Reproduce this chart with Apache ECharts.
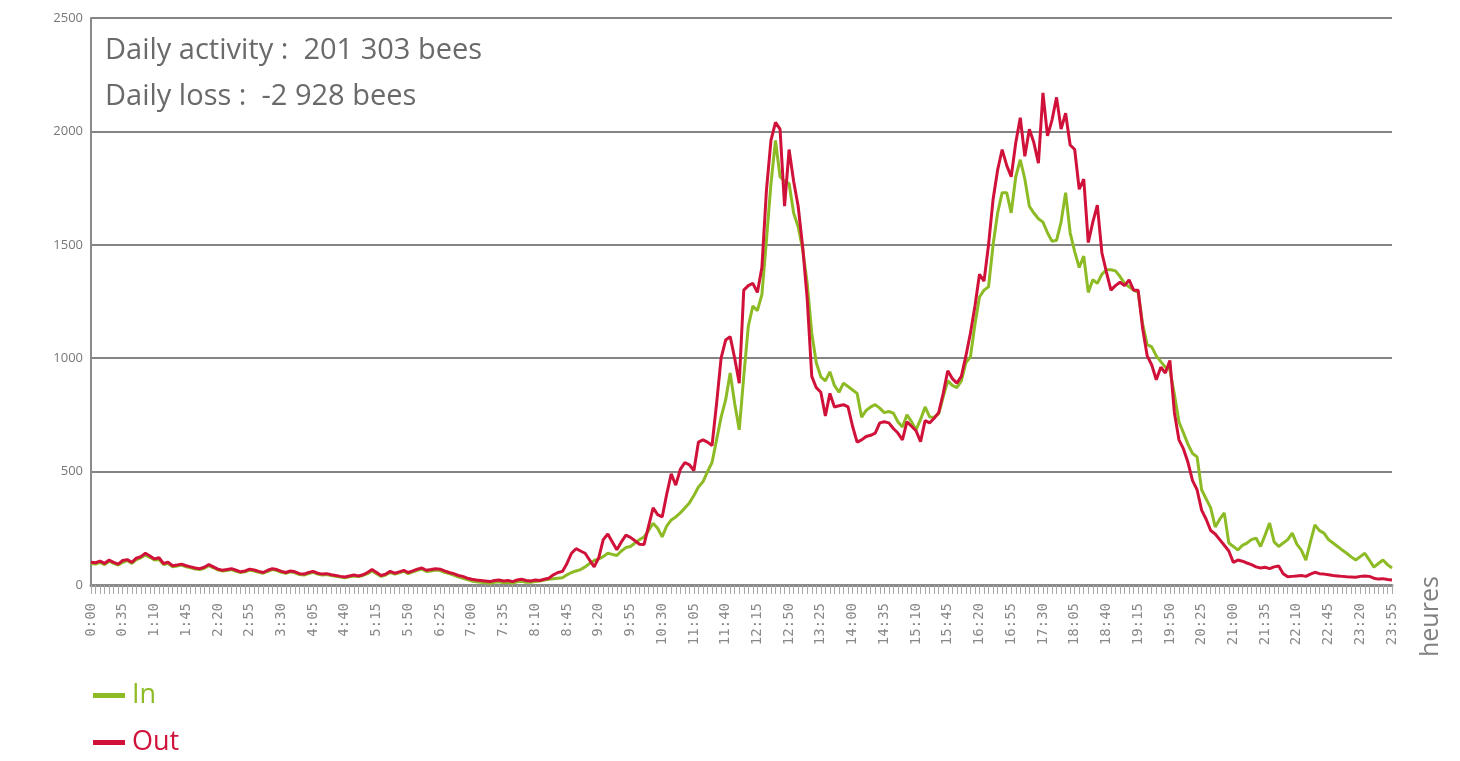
<!DOCTYPE html>
<html>
<head>
<meta charset="utf-8">
<script src="https://cdn.jsdelivr.net/npm/echarts@6/dist/echarts.min.js"></script>
<style>html,body{margin:0;padding:0;background:#fff;}#c{width:1460px;height:761px;}</style>
</head>
<body>
<div id="c"></div>
<script>
// time categories every 5 minutes
const categories = [];
for (let h = 0; h < 24; h++) { for (let m = 0; m < 60; m += 5) { categories.push(h + ':' + (m < 10 ? '0' + m : m)); } }

const yTicks = [0, 500, 1000, 1500, 2000, 2500];

const outValues = [
100,98,105,95,110,100,92,
108,112,100,118,125,140,128,
115,120,95,100,85,88,92,
85,80,75,72,78,90,80,
70,65,68,72,65,58,62,
70,66,60,55,65,72,68,
60,55,62,58,50,48,55,
60,52,48,50,45,42,38,
35,40,44,40,45,55,68,
55,42,48,60,52,58,64,
55,62,70,75,65,68,72,
70,62,55,50,42,38,30,
25,22,20,18,15,20,22,
18,20,15,22,25,20,18,
22,20,25,30,45,55,60,
95,140,160,150,140,110,80,
120,200,225,190,155,190,220,
210,195,180,178,260,340,310,
300,400,490,440,510,540,530,
505,630,640,630,615,800,1000,
1080,1095,1000,890,1300,1320,1330,
1290,1400,1740,1960,2040,2010,1670,
1920,1780,1670,1490,1260,920,870,
850,745,845,785,790,795,785,
700,630,640,655,660,670,715,
720,715,690,670,640,720,700,
680,632,725,715,735,760,845,
945,910,890,920,1010,1110,1230,
1370,1340,1500,1700,1830,1920,1850,
1800,1950,2060,1890,2010,1950,1860,
2170,1980,2050,2150,2010,2080,1940,
1920,1745,1790,1510,1600,1675,1465,
1380,1300,1320,1335,1320,1345,1300,
1300,1130,1010,970,905,960,935,
990,760,640,600,540,460,420,
330,290,240,225,200,175,150,
100,110,105,97,90,80,75,
78,72,80,84,50,36,38,
40,42,38,48,56,50,48,
45,42,40,38,36,35,34,
38,40,38,30,26,28,24,
22
];

const inValues = [
95,92,100,90,105,95,88,
100,108,95,112,120,132,122,
110,112,90,95,80,84,88,
80,76,70,68,74,85,76,
66,62,64,68,60,55,58,
66,62,56,52,60,68,64,
56,52,58,54,46,44,50,
56,48,44,46,42,38,35,
32,36,40,37,42,50,62,
50,38,44,55,48,54,60,
50,58,65,70,60,62,66,
64,56,50,44,36,30,24,
18,14,12,10,8,12,14,
10,12,8,14,16,12,12,
15,18,22,25,28,30,32,
45,55,62,68,80,95,108,
115,125,140,135,130,150,165,
170,185,200,212,240,272,250,
212,260,287,300,318,340,362,
395,432,455,500,540,640,740,
816,935,800,684,920,1140,1230,
1210,1280,1520,1770,1960,1800,1780,
1770,1640,1580,1480,1330,1110,980,
918,900,940,880,850,890,875,
860,845,740,770,785,795,780,
760,765,758,720,697,750,720,
684,730,785,741,740,755,830,
900,880,870,900,980,1006,1150,
1270,1300,1315,1500,1640,1730,1730,
1641,1800,1875,1790,1670,1640,1615,
1600,1553,1515,1520,1600,1730,1553,
1470,1400,1450,1290,1346,1330,1370,
1390,1390,1385,1360,1330,1315,1300,
1290,1150,1060,1050,1010,985,960,
950,840,720,670,620,580,565,
420,380,340,256,290,318,185,
170,154,175,185,200,207,170,
220,273,190,170,185,200,229,
180,154,110,190,265,240,229,
200,185,170,154,140,124,110,
125,140,110,79,95,110,90,
75
];

const GREEN = '#8dbb25';
const RED = '#d0123a';

const chart = echarts.init(document.getElementById('c'));
chart.setOption({
  animation: false,
  backgroundColor: '#fff',
  grid: { left: 91, right: 68, top: 18, bottom: 176 },
  xAxis: {
    type: 'category',
    data: categories,
    boundaryGap: false,
    axisLine: { show: true, lineStyle: { color: '#8a8a8a', width: 3 } },
    axisTick: { show: true, interval: 0, length: 9, lineStyle: { color: '#a8a8a8', width: 1 } },
    axisLabel: { interval: 6, rotate: 90, margin: 18, color: '#888', fontSize: 14, fontFamily: 'DejaVu Sans Mono' },
    splitLine: { show: false }
  },
  yAxis: {
    type: 'value',
    min: yTicks[0], max: yTicks[yTicks.length - 1], interval: 500,
    axisLine: { show: true, lineStyle: { color: '#8a8a8a', width: 2 } },
    axisTick: { show: false },
    axisLabel: { color: '#777', fontSize: 13, margin: 8, fontFamily: 'Open Sans', formatter: function (v) { return String(v); } },
    splitLine: { show: true, lineStyle: { color: '#848484', width: 2 } }
  },
  legend: {
    orient: 'vertical', left: 88, top: 677,
    itemWidth: 32, itemHeight: 5, itemGap: 20, icon: 'rect',
    textStyle: { fontSize: 27, fontFamily: 'Open Sans', padding: [0, 0, 0, 2] },
    data: [
      { name: 'In', textStyle: { color: GREEN } },
      { name: 'Out', textStyle: { color: RED } }
    ]
  },
  graphic: [
    { type: 'text', left: 105, top: 36, style: { text: 'Daily activity :  201 303 bees', fill: '#6a6a6a', font: '29px "Open Sans"' } },
    { type: 'text', left: 105, top: 82, style: { text: 'Daily loss :  -2 928 bees', fill: '#6a6a6a', font: '29px "Open Sans"' } },
    { type: 'text', x: 1418, y: 657, rotation: Math.PI / 2, style: { text: 'heures', fill: '#808080', font: '25px "Open Sans"' } }
  ],
  series: [
    { name: 'In', type: 'line', data: inValues, showSymbol: false, symbol: 'none', lineStyle: { color: GREEN, width: 3 }, itemStyle: { color: GREEN } },
    { name: 'Out', type: 'line', data: outValues, showSymbol: false, symbol: 'none', lineStyle: { color: RED, width: 3 }, itemStyle: { color: RED } }
  ]
});
</script>
</body>
</html>
